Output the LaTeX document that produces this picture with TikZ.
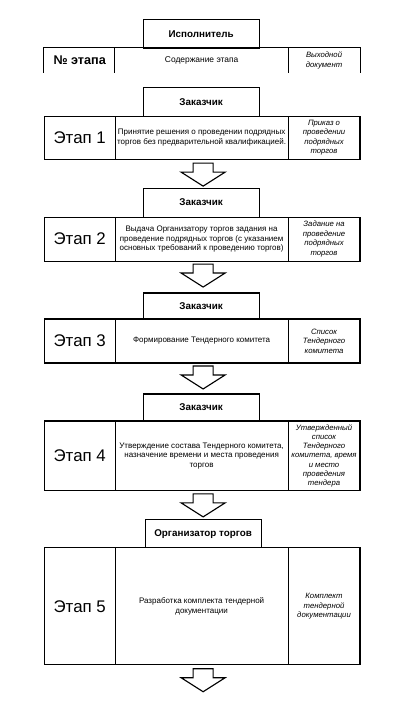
\documentclass[tikz,border=0pt]{standalone}
\usepackage{fontspec}
\setmainfont{Liberation Sans}
\usepackage{tikz}
\usetikzlibrary{positioning}
\tikzstyle{cell} = [rectangle, draw=black, line width=.8pt, inner sep=1pt, align=center]
\tikzstyle{actor} = [cell, minimum width=2.9cm, font=\fontsize{7}{8.5}\selectfont\bfseries]
\tikzstyle{stage} = [cell, minimum width=1.775cm, font=\fontsize{12}{14}\selectfont]
\tikzstyle{work} = [cell, minimum width=4.325cm, font=\fontsize{5.7}{7}\selectfont]
\tikzstyle{doc} = [cell, minimum width=1.8cm, font=\fontsize{5.5}{6.8}\selectfont\itshape]
\tikzstyle{flow} = [line width=.8pt, draw=black, fill=white, line join=miter]

\begin{document}
\begin{tikzpicture}
\draw[draw=white](0,0)--(10.25,18);
% header
\node[actor, minimum height=0.725cm] (executor) at (5.025,17.1625) {Исполнитель};
\node[stage, draw=none, minimum height=0.6cm, font=\fontsize{9}{11}\selectfont\bfseries] (hnum) at (1.9875,16.5) {№ этапа};
\node[work, draw=none, minimum height=0.6cm, font=\fontsize{6}{7}\selectfont] (htext) at (5.0375,16.5) {Содержание этапа};
\node[doc, draw=none, minimum height=0.6cm] (hdoc) at (8.1,16.5) {Выходной\\документ};
\draw[line width=.8pt] (hnum.south west) -- (hnum.north west) -- (hdoc.north east) -- (hdoc.south east);
\draw[line width=.8pt] (htext.north west) -- (htext.south west);
\draw[line width=.8pt] (htext.north east) -- (htext.south east);

% stage 1
\node[actor, minimum height=0.725cm] (cust1) at (5.025,15.4625) {Заказчик};
\node[stage, minimum height=1.075cm] (num1) at (1.9875,14.5625) {Этап 1};
\node[work, minimum height=1.075cm] (text1) at (5.0375,14.5625) {Принятие решения о проведении подрядных\\торгов без предварительной квалификацией.};
\node[doc, minimum height=1.075cm] (doc1) at (8.1,14.5625) {Приказ о\\проведении\\подрядных\\торгов};
\coordinate (arr1) at (5.075,13.925);
\draw[flow] (arr1) ++(-0.25,0) -- ++(0,-0.225) -- ++(-0.3,0) -- ++(0.55,-0.35) -- ++(0.55,0.35) -- ++(-0.3,0) -- ++(0,0.225) -- cycle;

% stage 2
\node[actor, minimum height=0.725cm] (cust2) at (5.025,12.9375) {Заказчик};
\node[stage, minimum height=1.1cm] (num2) at (1.9875,12.025) {Этап 2};
\node[work, minimum height=1.1cm] (text2) at (5.0375,12.025) {Выдача Организатору торгов задания на\\проведение подрядных торгов (с указанием\\основных требований к проведению торгов)};
\node[doc, minimum height=1.1cm] (doc2) at (8.1,12.025) {Задание на\\проведение\\подрядных\\торгов};
\coordinate (arr2) at (5.075,11.4);
\draw[flow] (arr2) ++(-0.25,0) -- ++(0,-0.225) -- ++(-0.3,0) -- ++(0.55,-0.35) -- ++(0.55,0.35) -- ++(-0.3,0) -- ++(0,0.225) -- cycle;

% stage 3
\node[actor, minimum height=0.65cm] (cust3) at (5.025,10.35) {Заказчик};
\node[stage, minimum height=1.1cm] (num3) at (1.9875,9.475) {Этап 3};
\node[work, minimum height=1.1cm] (text3) at (5.0375,9.475) {Формирование Тендерного комитета};
\node[doc, minimum height=1.1cm] (doc3) at (8.1,9.475) {Список\\Тендерного\\комитета};
\coordinate (arr3) at (5.075,8.85);
\draw[flow] (arr3) ++(-0.25,0) -- ++(0,-0.225) -- ++(-0.3,0) -- ++(0.55,-0.35) -- ++(0.55,0.35) -- ++(-0.3,0) -- ++(0,0.225) -- cycle;

% stage 4
\node[actor, minimum height=0.675cm] (cust4) at (5.025,7.8125) {Заказчик};
\node[stage, minimum height=1.75cm] (num4) at (1.9875,6.6) {Этап 4};
\node[work, minimum height=1.75cm] (text4) at (5.0375,6.6) {Утверждение состава Тендерного комитета,\\назначение времени и места проведения\\торгов};
\node[doc, minimum height=1.75cm, font=\fontsize{5.5}{6.6}\selectfont\itshape] (doc4) at (8.1,6.6) {Утвержденный\\список\\Тендерного\\комитета, время\\и место\\проведения\\тендера};
\coordinate (arr4) at (5.075,5.65);
\draw[flow] (arr4) ++(-0.25,0) -- ++(0,-0.225) -- ++(-0.3,0) -- ++(0.55,-0.35) -- ++(0.55,0.35) -- ++(-0.3,0) -- ++(0,0.225) -- cycle;

% stage 5
\node[actor, minimum height=0.7cm] (org5) at (5.075,4.65) {Организатор торгов};
\node[stage, minimum height=2.925cm] (num5) at (1.9875,2.8375) {Этап 5};
\node[work, minimum height=2.925cm] (text5) at (5.0375,2.8375) {Разработка комплекта тендерной\\документации};
\node[doc, minimum height=2.925cm] (doc5) at (8.1,2.8375) {Комплект\\тендерной\\документации};
\coordinate (arr5) at (5.075,1.275);
\draw[flow] (arr5) ++(-0.25,0) -- ++(0,-0.225) -- ++(-0.3,0) -- ++(0.55,-0.35) -- ++(0.55,0.35) -- ++(-0.3,0) -- ++(0,0.225) -- cycle;
\end{tikzpicture}
\end{document}
